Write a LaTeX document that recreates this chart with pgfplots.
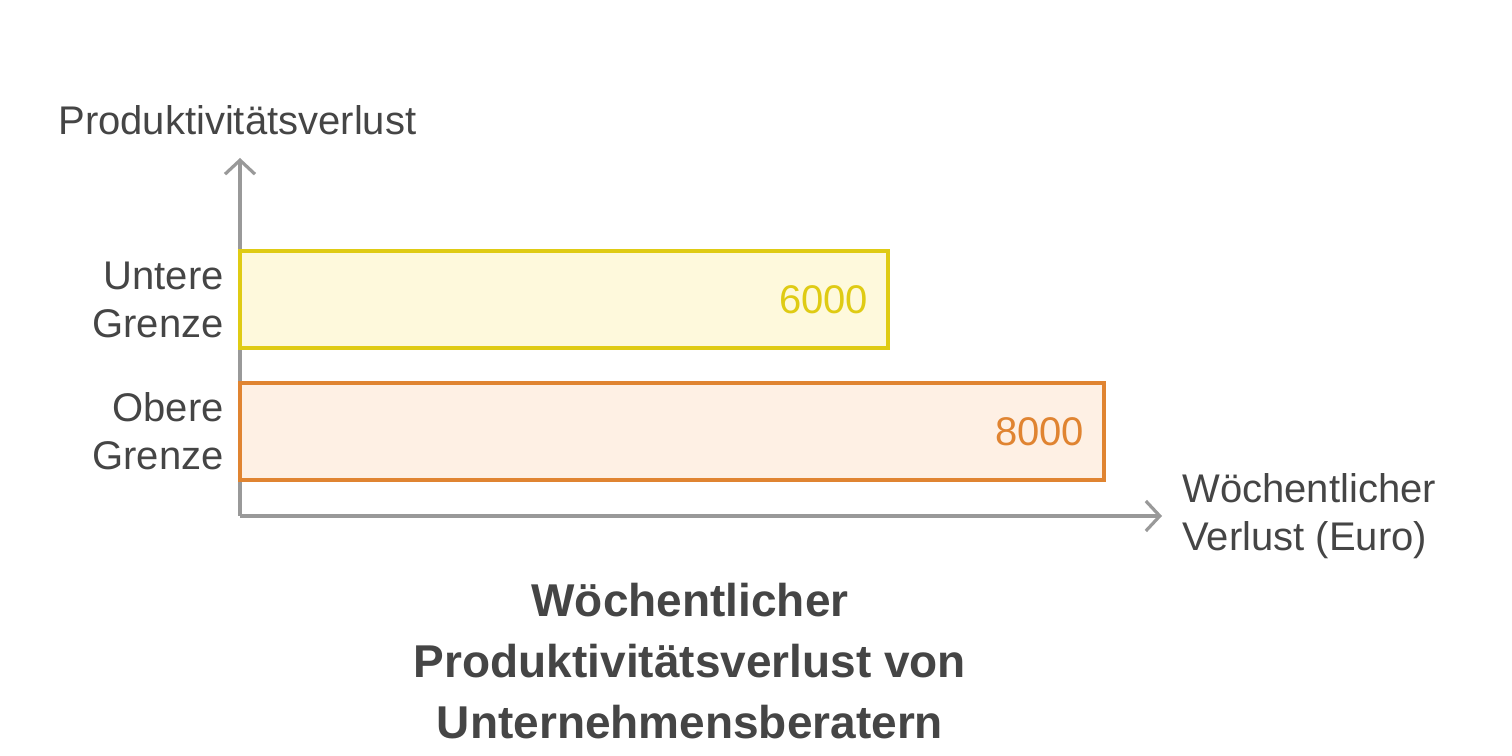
\documentclass[border=0pt]{standalone}
\usepackage{pgfplots}
\pgfplotsset{compat=1.18}
\usetikzlibrary{arrows.meta}
\usepackage{fontspec}
\setmainfont{Liberation Sans}

\definecolor{axisgray}{HTML}{999999}
\definecolor{textgray}{HTML}{454545}
\definecolor{ylw}{HTML}{DFCB14}
\definecolor{ylwfill}{HTML}{FEF9DC}
\definecolor{org}{HTML}{E08431}
\definecolor{orgfill}{HTML}{FEF0E4}

\begin{document}
\begin{tikzpicture}
\useasboundingbox (0,0) rectangle (756pt,378pt);
\begin{axis}[
    at={(120pt,120pt)}, anchor=south west,
    scale only axis,
    width=461pt, height=179pt,
    xmin=0, xmax=8537,
    ymin=0, ymax=358,
    axis lines=left,
    axis line style={line width=1.6pt, color=axisgray,
      -{Straight Barb[length=7pt,width=15pt]}},
    xtick=\empty,
    ytick={84.5,216.5},
    yticklabels={{Obere\\Grenze},{Untere\\Grenze}},
    major tick length=0pt,
    yticklabel style={align=right, text=textgray,
      font=\fontsize{20}{24}\selectfont, inner sep=0pt, xshift=-8pt},
    xbar, bar shift=0pt, bar width=97,
    clip=false,
    nodes near coords,
    every node near coord/.append style={anchor=east, inner sep=0pt,
      xshift=-9pt, font=\fontsize{20}{24}\selectfont},
    point meta=explicit symbolic,
  ]
\addplot[draw=ylw, fill=ylwfill, line width=1.8pt,
  every node near coord/.append style={text=ylw}]
  coordinates {(6000,216.5) [6000]};
\addplot[draw=org, fill=orgfill, line width=1.8pt,
  every node near coord/.append style={text=org}]
  coordinates {(8000,84.5) [8000]};
\end{axis}
\node[anchor=west, text=textgray, font=\fontsize{20}{24}\selectfont, inner sep=0pt]
  at (29pt,318pt) {Produktivitätsverlust};
\node[anchor=west, align=left, text=textgray, font=\fontsize{20}{24}\selectfont, inner sep=0pt]
  at (591pt,120pt) {Wöchentlicher\\Verlust (Euro)};
\node[align=center, text=textgray, font=\fontsize{23}{30.5}\selectfont\bfseries, inner sep=0pt]
  at (345pt,47.5pt) {Wöchentlicher\\Produktivitätsverlust von\\Unternehmensberatern};
\end{tikzpicture}
\end{document}
